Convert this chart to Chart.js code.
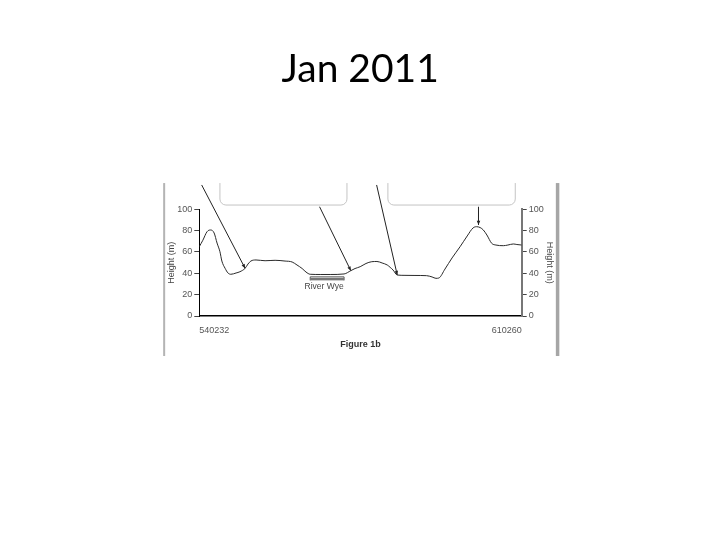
<!DOCTYPE html>
<html><head><meta charset="utf-8">
<script src="https://cdn.jsdelivr.net/npm/chart.js@4/dist/chart.umd.min.js"></script>
<style>html,body{margin:0;padding:0;background:#fff;}#wrap{width:720px;height:540px;position:relative;}</style>
</head><body><div id="wrap"><canvas id="c" width="720" height="540"></canvas></div>
<script>
// ---- data (distance along profile in % of section, height in m) ----
const distance = [0, 1.1, 2.4, 3.5, 4.6, 5.5, 6.4, 7.0, 8.0, 8.9, 9.8, 11.4, 12.6, 14.2, 15.1, 16.0, 17.6, 20.4, 23.5, 26.6, 28.8, 30.3, 31.9, 33.1, 34.4, 37.5, 40.6, 44.9, 47.0, 48.3, 49.9, 51.7, 53.5, 55.1, 56.7, 58.3, 59.2, 60.1, 61.4, 63.8, 66.9, 70.5, 72.2, 73.4, 74.3, 76.2, 78.4, 80.9, 83.1, 84.9, 86.0, 87.1, 88.1, 89.2, 90.7, 92.0, 94.3, 95.7, 97.4, 98.5, 100];
const heightM  = [65, 71, 79, 80.6, 77.8, 68.4, 60.3, 51.5, 44.7, 40.3, 39.1, 40.3, 41.5, 44.7, 48.7, 51.5, 52.5, 51.8, 52.2, 51.5, 50.6, 47.8, 44.5, 41.2, 39.1, 38.9, 38.9, 39.4, 42.5, 44.5, 46.2, 49.2, 50.9, 51.1, 49.7, 47.8, 45.6, 43.1, 38.4, 38.1, 38.0, 37.8, 36.6, 35.3, 35.6, 44, 54.4, 65, 75, 82.5, 83.7, 82.9, 80.6, 75.9, 68.1, 66.5, 65.9, 66.5, 67.5, 67, 66.5];
const endLabels = ['540232', '610260'];
const chartTitle = 'Jan 2011';
const figureCaption = 'Figure 1b';
const axisTitle = 'Height (m)';
const riverLabel = 'River Wye';

// ---- decorations (in data units of the chart's scales) ----
const callouts = [{x0: 6.4, x1: 45.8}, {x0: 58.5, x1: 98.0}];
const pointers = [
  {from: [0.74, 122.8], to: [14.2, 44.7]},
  {from: [37.3, 102.4], to: [47.0, 42.5]},
  {from: [55.0, 122.8], to: [61.4, 38.4]},
  {from: [86.6, 102.4], to: [86.6, 85.3]}
];

const small = {family: '"Liberation Sans", Arial, sans-serif', size: 9};

const decor = {
  id: 'decor',
  beforeDraw(chart) {
    const {ctx, scales: {x, y}} = chart;
    ctx.save();
    ctx.fillStyle = '#b4b4b4';
    const top = y.getPixelForValue(124.6), bot = y.getPixelForValue(-37.5);
    const lx = x.getPixelForValue(-10.9), rx = x.getPixelForValue(110.9);
    ctx.fillRect(lx - 1, top, 2, bot - top);
    ctx.fillStyle = '#a6a6a6';
    ctx.fillRect(rx - 1, top, 3.5, bot - top);
    ctx.restore();
  },
  afterDraw(chart) {
    const {ctx, scales: {x, y}} = chart;
    ctx.save();
    // callout boxes (top cut off by the figure edge)
    const yTop = y.getPixelForValue(124.6), yBot = y.getPixelForValue(104);
    ctx.strokeStyle = '#c4c4c4';
    ctx.lineWidth = 1;
    callouts.forEach(c => {
      const a = x.getPixelForValue(c.x0), b = x.getPixelForValue(c.x1), r = 6;
      ctx.beginPath();
      ctx.moveTo(a, yTop);
      ctx.lineTo(a, yBot - r);
      ctx.arcTo(a, yBot, a + r, yBot, r);
      ctx.lineTo(b - r, yBot);
      ctx.arcTo(b, yBot, b, yBot - r, r);
      ctx.lineTo(b, yTop);
      ctx.stroke();
    });
    // pointer lines with arrowheads
    ctx.strokeStyle = '#222';
    ctx.fillStyle = '#222';
    pointers.forEach(p => {
      const x0 = x.getPixelForValue(p.from[0]), y0 = y.getPixelForValue(p.from[1]);
      const x1 = x.getPixelForValue(p.to[0]), y1 = y.getPixelForValue(p.to[1]);
      ctx.beginPath(); ctx.moveTo(x0, y0); ctx.lineTo(x1, y1); ctx.stroke();
      const ang = Math.atan2(y1 - y0, x1 - x0), L = 4.5, w = 0.4;
      ctx.beginPath();
      ctx.moveTo(x1, y1);
      ctx.lineTo(x1 - L * Math.cos(ang - w), y1 - L * Math.sin(ang - w));
      ctx.lineTo(x1 - L * Math.cos(ang + w), y1 - L * Math.sin(ang + w));
      ctx.closePath(); ctx.fill();
    });
    // River Wye bracket
    const bx0 = x.getPixelForValue(34.4), bx1 = x.getPixelForValue(44.9), by = y.getPixelForValue(34.8);
    ctx.strokeStyle = '#555'; ctx.lineWidth = 1;
    ctx.beginPath();
    ctx.moveTo(bx0, by - 2); ctx.lineTo(bx1, by - 2);
    ctx.moveTo(bx0, by - 2); ctx.lineTo(bx0, by + 1.5);
    ctx.moveTo(bx1, by - 2); ctx.lineTo(bx1, by + 1.5);
    ctx.stroke();
    ctx.fillStyle = '#777';
    ctx.fillRect(bx0, by - 1, bx1 - bx0, 2.5);
    ctx.fillStyle = '#444';
    ctx.font = '8.5px "Liberation Sans", Arial, sans-serif';
    ctx.textAlign = 'center'; ctx.textBaseline = 'middle';
    ctx.fillText(riverLabel, x.getPixelForValue(38.7), y.getPixelForValue(27.2));
    ctx.restore();
  }
};

const yAxisBase = (pos, w) => ({
  type: 'linear', position: pos, min: 0, max: 100,
  grid: {drawOnChartArea: false, drawTicks: true, tickLength: 5, color: '#444', lineWidth: 1},
  ticks: {stepSize: 10, padding: 2, color: '#555', font: small,
          callback: v => (v % 20 === 0 ? String(v) : '')},
  title: {display: true, text: axisTitle, color: '#444', font: small, padding: 0},
  afterFit(s) { s.width = w; }
});

new Chart(document.getElementById('c'), {
  type: 'line',
  data: {
    datasets: [{
      data: distance.map((d, i) => ({x: d, y: heightM[i]})),
      borderColor: '#2a2a2a', borderWidth: 1, pointRadius: 0,
      cubicInterpolationMode: 'monotone', fill: false
    }]
  },
  options: {
    responsive: false, animation: false, devicePixelRatio: 1,
    layout: {padding: {left: 166, right: 165.6, top: 0, bottom: 189.6}},
    plugins: {
      legend: {display: false}, tooltip: {enabled: false},
      title: {display: true, text: chartTitle, color: '#000',
              font: {family: 'Lato, "Liberation Sans", sans-serif', size: 39, weight: 'normal', lineHeight: 1.2},
              padding: {top: 46, bottom: 116.5}}
    },
    scales: {
      x: {
        type: 'linear', position: 'bottom', min: 0, max: 100,
        grid: {display: false, drawTicks: false},
        border: {display: true, color: '#000', width: 1.5},
        afterBuildTicks(s) { s.ticks = [{value: 0}, {value: 100}]; },
        ticks: {align: 'inner', padding: 9, maxRotation: 0, color: '#555', font: small,
                callback: (v, i) => endLabels[i]},
        title: {display: true, text: figureCaption, color: '#333',
                font: {family: small.family, size: 9, weight: 'bold'}, padding: 0},
        afterFit(s) { s.height = 34.4; }
      },
      y: Object.assign(yAxisBase('left', 33.3), {border: {display: true, color: '#000', width: 1}}),
      y2: Object.assign(yAxisBase('right', 32.7), {border: {display: true, color: '#777', width: 2}})
    }
  },
  plugins: [decor]
});
</script>
</body></html>
